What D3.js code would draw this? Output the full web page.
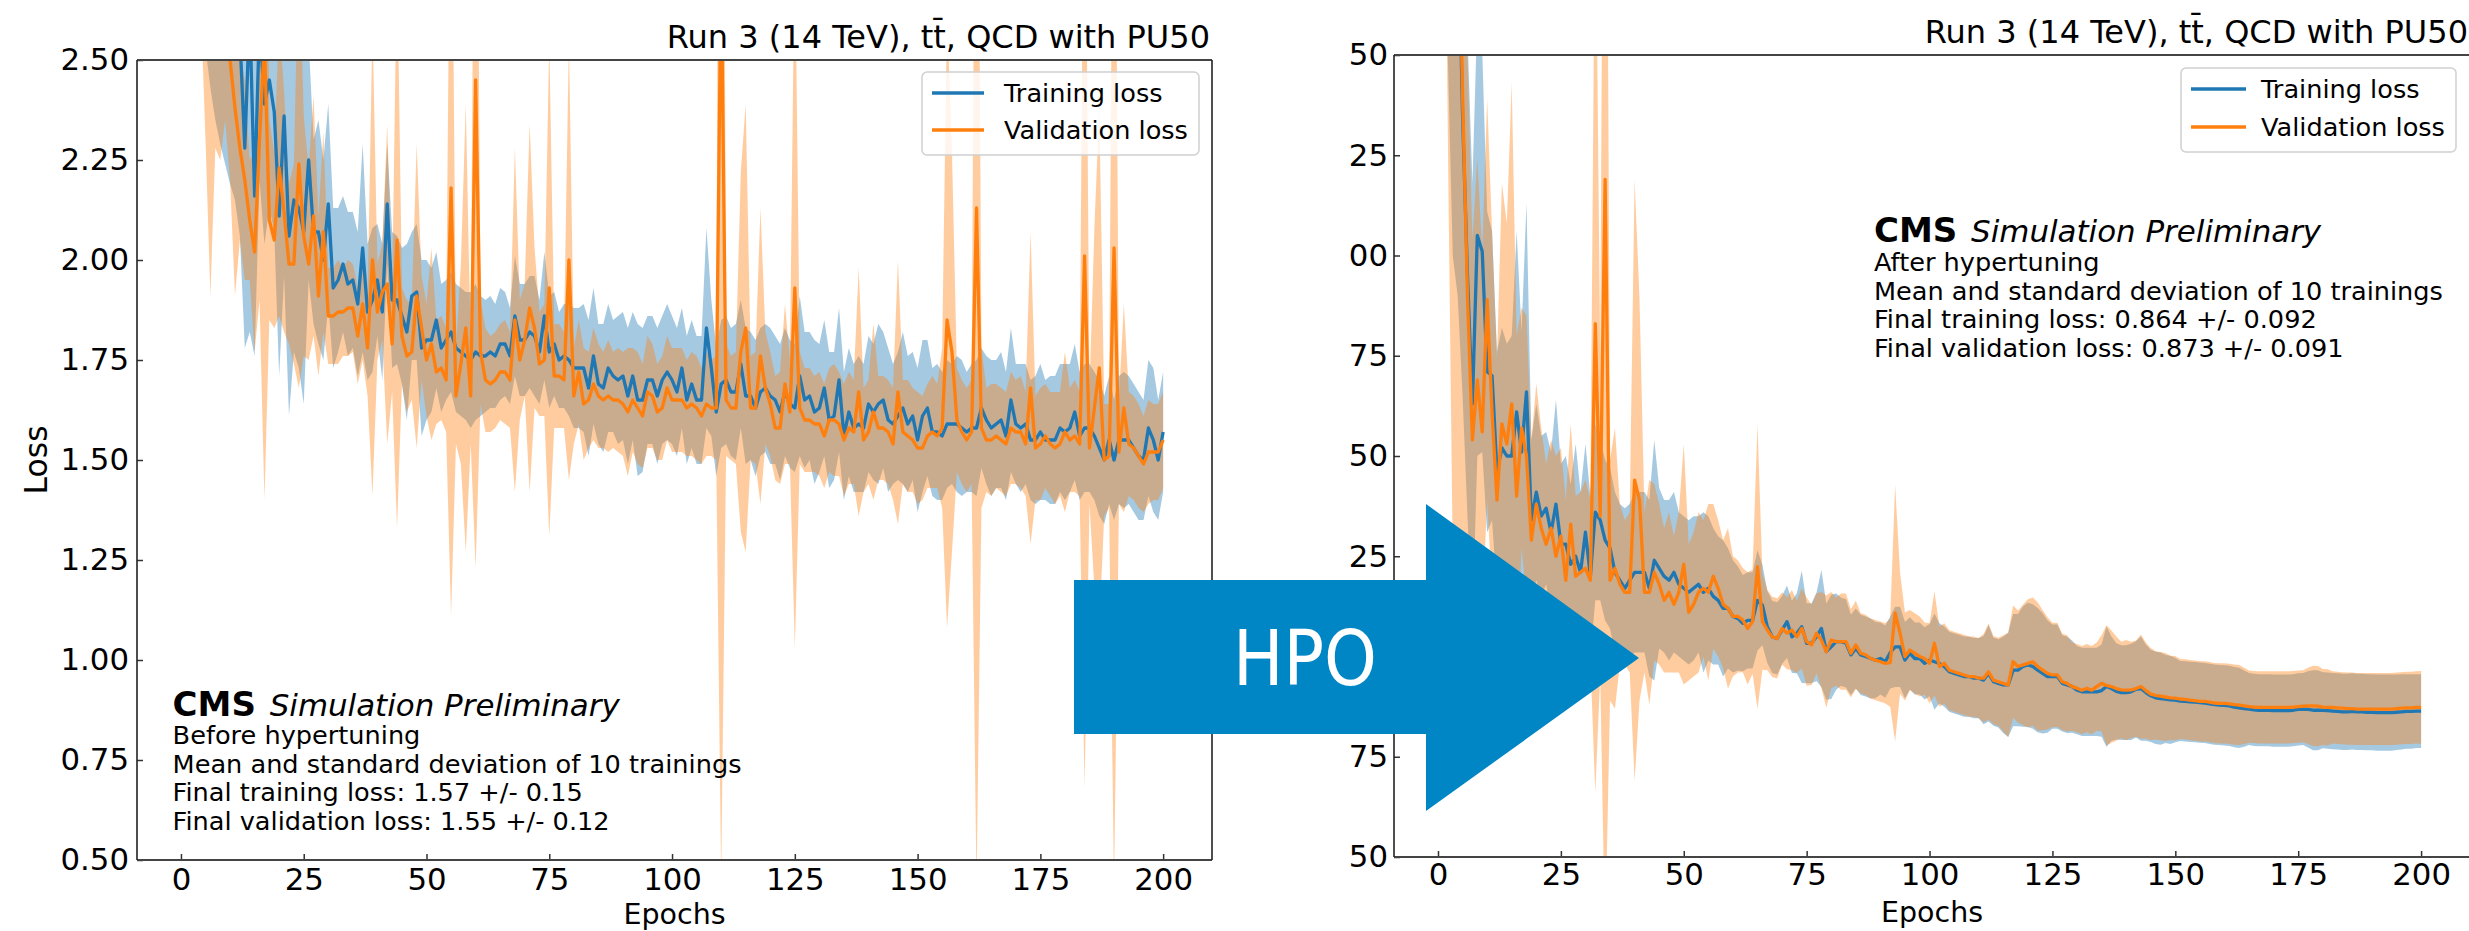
<!DOCTYPE html>
<html><head><meta charset="utf-8">
<script src="https://cdn.jsdelivr.net/npm/d3@7"></script>
<style>body{margin:0;background:#fff;} svg{display:block;} text{font-family:"DejaVu Sans",sans-serif;fill:#000;}</style>
</head><body><svg id="c" width="2469" height="931"></svg>
<script>
const epochs = d3.range(1, 201);
const xTicks = [0,25,50,75,100,125,150,175,200];
const yTicks = [0.5,0.75,1.0,1.25,1.5,1.75,2.0,2.25,2.5];
const leftYTickLabels = ["0.50","0.75","1.00","1.25","1.50","1.75","2.00","2.25","2.50"];
// right panel: left part of the labels is cropped in the original; the 1.00 label sits under the arrow
const rightYTickLabels = ["50","75","","25","50","75","00","25","50"];
const seriesNames = ["Training loss","Validation loss"];
const titleText = "Run 3 (14 TeV), tt\u0304, QCD with PU50";
const leftNotes = ["Before hypertuning","Mean and standard deviation of 10 trainings","Final training loss: 1.57 +/- 0.15","Final validation loss: 1.55 +/- 0.12"];
const rightNotes = ["After hypertuning","Mean and standard deviation of 10 trainings","Final training loss: 0.864 +/- 0.092","Final validation loss: 0.873 +/- 0.091"];

const leftTrainMean = [4.50,3.80,3.40,3.15,2.98,2.88,2.80,2.74,2.69,2.64,
2.60,2.56,2.28,2.62,2.16,2.60,2.39,2.45,2.37,2.11,
2.36,2.06,2.15,2.13,2.07,2.25,2.07,2.07,2.00,2.14,
1.93,1.95,1.99,1.94,1.95,1.89,2.03,1.87,1.90,1.95,
1.87,2.14,1.90,1.90,1.86,1.82,1.91,1.92,1.78,1.80,
1.80,1.85,1.78,1.80,1.82,1.78,1.77,1.76,1.75,1.77,
1.76,1.76,1.77,1.76,1.79,1.79,1.76,1.86,1.80,1.80,
1.82,1.81,1.77,1.86,1.77,1.79,1.75,1.76,1.75,1.73,
1.73,1.73,1.68,1.76,1.69,1.68,1.73,1.71,1.70,1.71,
1.66,1.71,1.65,1.65,1.70,1.70,1.66,1.70,1.72,1.70,
1.67,1.73,1.65,1.69,1.65,1.65,1.83,1.73,1.62,1.69,
1.70,1.67,1.67,1.74,1.66,1.66,1.63,1.67,1.68,1.66,
1.65,1.62,1.67,1.64,1.63,1.71,1.65,1.66,1.62,1.63,
1.68,1.60,1.61,1.70,1.56,1.62,1.58,1.59,1.58,1.64,
1.62,1.64,1.65,1.60,1.59,1.61,1.63,1.59,1.61,1.55,
1.61,1.63,1.57,1.57,1.56,1.59,1.59,1.59,1.58,1.57,
1.58,1.58,1.63,1.60,1.58,1.59,1.60,1.56,1.65,1.59,
1.58,1.59,1.55,1.55,1.57,1.55,1.55,1.55,1.58,1.57,
1.58,1.62,1.56,1.58,1.58,1.56,1.53,1.50,1.55,1.50,
1.55,1.55,1.55,1.53,1.51,1.50,1.58,1.55,1.50,1.57];
const leftTrainStd = [0.60,0.50,0.45,0.45,0.45,0.45,0.45,0.45,0.45,0.45,
0.45,0.50,0.50,0.80,0.40,0.40,0.35,0.32,0.30,0.40,
0.40,0.45,0.38,0.40,0.43,0.30,0.23,0.28,0.25,0.25,
0.20,0.18,0.17,0.18,0.17,0.18,0.26,0.17,0.18,0.14,
0.17,0.15,0.17,0.16,0.17,0.22,0.16,0.17,0.22,0.20,
0.18,0.17,0.16,0.15,0.15,0.16,0.16,0.16,0.17,0.17,
0.15,0.14,0.14,0.13,0.14,0.13,0.12,0.15,0.14,0.14,
0.14,0.15,0.13,0.16,0.14,0.13,0.12,0.13,0.14,0.15,
0.15,0.16,0.17,0.17,0.15,0.16,0.16,0.14,0.16,0.16,
0.17,0.16,0.19,0.18,0.16,0.16,0.17,0.16,0.17,0.16,
0.16,0.15,0.16,0.16,0.16,0.16,0.25,0.17,0.16,0.16,
0.16,0.16,0.17,0.16,0.17,0.16,0.17,0.16,0.16,0.17,
0.16,0.17,0.16,0.16,0.16,0.20,0.17,0.16,0.18,0.16,
0.17,0.17,0.16,0.18,0.16,0.16,0.16,0.17,0.16,0.17,
0.17,0.20,0.17,0.18,0.15,0.16,0.19,0.17,0.16,0.18,
0.19,0.17,0.16,0.17,0.16,0.16,0.15,0.17,0.17,0.15,
0.16,0.17,0.15,0.16,0.17,0.16,0.17,0.16,0.18,0.15,
0.16,0.15,0.15,0.16,0.17,0.15,0.16,0.16,0.16,0.17,
0.16,0.17,0.16,0.16,0.16,0.16,0.17,0.16,0.16,0.15,
0.16,0.17,0.16,0.16,0.16,0.15,0.17,0.18,0.15,0.15];
const leftValMean = [5.00,3.90,3.20,2.85,2.75,2.65,2.60,2.58,2.55,2.50,
2.38,2.28,2.20,2.10,2.02,2.30,2.55,2.10,2.05,2.23,
2.12,1.99,1.99,2.24,2.06,1.99,2.11,1.91,2.07,1.86,
1.86,1.87,1.87,1.88,1.88,1.81,1.89,1.78,2.00,1.87,
1.92,1.94,1.79,2.05,1.81,1.76,1.77,1.91,1.83,1.75,
1.79,1.72,1.73,1.70,2.18,1.66,1.74,1.83,1.66,2.45,
1.77,1.70,1.69,1.70,1.72,1.72,1.70,1.85,1.75,1.80,
1.88,1.83,1.74,1.75,1.93,1.71,1.71,1.70,2.00,1.66,
1.72,1.64,1.65,1.69,1.66,1.65,1.66,1.65,1.65,1.64,
1.62,1.65,1.63,1.61,1.67,1.66,1.62,1.63,1.68,1.65,
1.65,1.65,1.63,1.64,1.63,1.61,1.64,1.63,1.63,2.75,
1.65,1.63,1.63,1.77,1.83,1.63,1.63,1.76,1.68,1.64,
1.58,1.58,1.69,1.62,1.93,1.63,1.60,1.60,1.59,1.59,
1.56,1.60,1.60,1.59,1.55,1.58,1.57,1.67,1.55,1.57,
1.62,1.58,1.58,1.57,1.54,1.67,1.57,1.56,1.55,1.53,
1.53,1.56,1.57,1.56,1.58,1.85,1.77,1.60,1.57,1.55,
1.57,2.13,1.58,1.55,1.55,1.56,1.55,1.54,1.58,1.57,
1.57,1.54,1.68,1.53,1.54,1.56,1.54,1.53,1.54,1.57,
1.55,1.56,1.54,2.01,1.53,1.63,1.73,1.50,1.51,2.03,
1.52,1.63,1.54,1.53,1.51,1.49,1.52,1.52,1.52,1.55];
const leftValStd = [0.50,0.45,0.35,0.20,0.45,0.74,0.32,0.33,0.20,0.30,
0.47,0.23,0.25,0.15,0.25,0.40,1.15,0.25,0.22,0.37,
0.30,0.20,0.25,0.56,0.30,0.24,0.30,0.20,0.25,0.12,
0.12,0.13,0.11,0.12,0.11,0.12,0.14,0.12,0.59,0.12,
0.12,0.40,0.12,0.72,0.12,0.14,0.12,0.38,0.13,0.14,
0.24,0.13,0.13,0.13,1.07,0.12,0.25,0.56,0.12,1.22,
0.13,0.13,0.12,0.12,0.12,0.13,0.12,0.43,0.15,0.14,
0.46,0.20,0.13,0.14,0.62,0.13,0.13,0.12,0.55,0.12,
0.13,0.14,0.12,0.14,0.13,0.12,0.14,0.12,0.13,0.13,
0.16,0.13,0.14,0.13,0.14,0.13,0.12,0.13,0.13,0.13,
0.13,0.13,0.12,0.13,0.13,0.12,0.13,0.12,0.13,2.30,
0.14,0.13,0.14,0.45,0.56,0.13,0.14,0.37,0.14,0.13,
0.13,0.14,0.20,0.13,0.90,0.14,0.13,0.13,0.12,0.13,
0.13,0.13,0.14,0.13,0.14,0.14,0.13,0.31,0.13,0.13,
0.22,0.13,0.13,0.13,0.14,0.33,0.13,0.14,0.13,0.14,
0.13,0.13,0.14,0.13,0.20,0.77,0.50,0.13,0.13,0.13,
0.13,1.70,0.20,0.13,0.14,0.13,0.13,0.13,0.14,0.13,
0.14,0.13,0.39,0.13,0.14,0.13,0.13,0.14,0.13,0.20,
0.13,0.14,0.13,1.33,0.14,0.45,0.65,0.14,0.13,1.60,
0.13,0.26,0.13,0.13,0.13,0.12,0.13,0.12,0.12,0.12];

const rightTrainMean = [6.00,4.50,3.50,2.90,2.35,1.95,1.63,2.05,2.01,1.71,
1.70,1.46,1.52,1.50,1.50,1.61,1.51,1.66,1.34,1.41,
1.35,1.37,1.31,1.38,1.28,1.28,1.23,1.25,1.21,1.31,
1.20,1.36,1.34,1.29,1.27,1.21,1.19,1.17,1.19,1.21,
1.21,1.21,1.17,1.24,1.22,1.20,1.19,1.21,1.18,1.17,
1.16,1.17,1.18,1.16,1.17,1.15,1.14,1.12,1.12,1.10,
1.095,1.083,1.09,1.09,1.14,1.128,1.074,1.049,1.045,1.066,
1.087,1.049,1.058,1.074,1.033,1.033,1.049,1.070,1.012,1.024,
1.037,1.037,1.033,1.004,1.020,1.004,1.000,0.995,0.991,0.995,
0.987,1.010,1.024,1.024,0.991,1.008,0.995,0.995,0.983,0.991,
0.987,0.983,0.975,0.962,0.958,0.954,0.950,0.950,0.946,0.946,
0.941,0.958,0.937,0.933,0.929,0.929,0.966,0.966,0.975,0.979,
0.975,0.966,0.958,0.950,0.950,0.950,0.933,0.929,0.925,0.916,
0.912,0.912,0.912,0.912,0.915,0.925,0.920,0.913,0.910,0.910,
0.912,0.918,0.920,0.910,0.902,0.897,0.895,0.894,0.892,0.891,
0.889,0.888,0.887,0.886,0.885,0.884,0.882,0.880,0.879,0.878,
0.877,0.874,0.872,0.870,0.869,0.867,0.866,0.866,0.866,0.865,
0.865,0.865,0.865,0.866,0.868,0.869,0.868,0.866,0.866,0.866,
0.865,0.864,0.863,0.862,0.862,0.863,0.862,0.862,0.861,0.861,
0.860,0.860,0.860,0.860,0.861,0.862,0.863,0.863,0.864,0.864];
const rightTrainStd = [2.50,2.00,1.50,1.00,0.70,0.60,0.55,0.55,0.50,0.40,
0.36,0.30,0.30,0.28,0.30,0.45,0.30,0.47,0.20,0.22,
0.20,0.19,0.20,0.26,0.20,0.22,0.20,0.28,0.20,0.22,
0.20,0.22,0.20,0.20,0.20,0.20,0.19,0.20,0.19,0.20,
0.20,0.20,0.22,0.30,0.20,0.19,0.20,0.20,0.18,0.18,
0.18,0.18,0.17,0.20,0.18,0.17,0.16,0.17,0.15,0.14,
0.13,0.12,0.12,0.12,0.125,0.10,0.09,0.09,0.09,0.085,
0.09,0.09,0.10,0.14,0.10,0.10,0.11,0.146,0.12,0.13,
0.12,0.11,0.11,0.10,0.10,0.10,0.10,0.10,0.095,0.09,
0.09,0.09,0.10,0.10,0.095,0.09,0.09,0.09,0.09,0.09,
0.12,0.10,0.10,0.10,0.10,0.10,0.10,0.10,0.10,0.10,
0.11,0.12,0.11,0.11,0.12,0.13,0.14,0.14,0.15,0.155,
0.155,0.155,0.15,0.14,0.13,0.13,0.12,0.12,0.115,0.11,
0.11,0.11,0.11,0.11,0.115,0.15,0.13,0.12,0.118,0.118,
0.12,0.12,0.13,0.12,0.115,0.115,0.115,0.11,0.11,0.105,
0.10,0.10,0.10,0.10,0.10,0.10,0.10,0.10,0.10,0.10,
0.10,0.10,0.10,0.095,0.09,0.09,0.09,0.09,0.09,0.09,
0.09,0.09,0.09,0.09,0.09,0.09,0.095,0.10,0.10,0.095,
0.095,0.095,0.095,0.095,0.095,0.095,0.095,0.095,0.095,0.095,
0.095,0.095,0.095,0.095,0.094,0.094,0.093,0.093,0.092,0.092];
const rightValMean = [6.50,4.80,3.60,3.00,2.40,1.90,1.54,1.69,1.56,1.89,
1.61,1.39,1.58,1.53,1.63,1.40,1.57,1.50,1.29,1.38,
1.32,1.28,1.32,1.25,1.30,1.19,1.33,1.20,1.21,1.22,
1.19,1.83,1.35,2.19,1.19,1.22,1.18,1.16,1.16,1.44,
1.39,1.16,1.16,1.21,1.18,1.14,1.16,1.13,1.16,1.23,
1.11,1.13,1.16,1.17,1.16,1.20,1.17,1.13,1.12,1.10,
1.10,1.091,1.070,1.087,1.224,1.087,1.066,1.049,1.045,1.070,
1.058,1.066,1.049,1.070,1.037,1.029,1.058,1.041,1.012,1.041,
1.037,1.037,1.037,1.008,1.029,1.008,1.004,0.995,0.991,0.987,
0.983,0.985,1.108,1.058,1.000,1.016,1.008,1.000,0.995,0.983,
1.033,0.975,0.983,0.966,0.962,0.958,0.954,0.950,0.950,0.946,
0.946,0.962,0.941,0.937,0.933,0.929,0.987,0.975,0.979,0.983,
0.987,0.975,0.966,0.958,0.954,0.954,0.937,0.933,0.925,0.921,
0.916,0.921,0.916,0.925,0.933,0.928,0.925,0.920,0.917,0.916,
0.917,0.920,0.925,0.915,0.906,0.903,0.901,0.899,0.897,0.896,
0.894,0.893,0.891,0.890,0.888,0.888,0.886,0.884,0.883,0.883,
0.882,0.880,0.879,0.877,0.875,0.874,0.873,0.873,0.873,0.873,
0.873,0.873,0.873,0.874,0.875,0.876,0.877,0.877,0.876,0.874,
0.873,0.873,0.872,0.871,0.870,0.870,0.869,0.869,0.869,0.869,
0.869,0.869,0.869,0.869,0.870,0.871,0.872,0.872,0.873,0.873];
const rightValStd = [3.00,2.50,2.35,1.70,1.10,0.60,0.50,0.55,0.45,0.50,
0.45,0.35,0.60,0.55,0.80,0.40,0.30,0.35,0.25,0.30,
0.25,0.20,0.22,0.25,0.22,0.20,0.25,0.20,0.20,0.22,
0.20,1.17,0.40,1.90,0.30,0.35,0.20,0.18,0.20,0.75,
0.50,0.20,0.28,0.22,0.20,0.18,0.20,0.17,0.20,0.30,
0.17,0.18,0.20,0.17,0.22,0.18,0.17,0.16,0.20,0.15,
0.14,0.13,0.14,0.13,0.355,0.12,0.10,0.10,0.10,0.09,
0.09,0.10,0.09,0.10,0.11,0.10,0.10,0.12,0.14,0.12,
0.11,0.12,0.12,0.11,0.11,0.10,0.10,0.10,0.10,0.10,
0.10,0.11,0.32,0.15,0.11,0.10,0.10,0.10,0.09,0.10,
0.13,0.10,0.10,0.10,0.10,0.10,0.10,0.10,0.10,0.10,
0.11,0.12,0.11,0.11,0.12,0.13,0.14,0.14,0.15,0.16,
0.16,0.16,0.15,0.14,0.13,0.13,0.12,0.12,0.11,0.11,
0.11,0.11,0.11,0.11,0.12,0.15,0.14,0.13,0.12,0.125,
0.12,0.12,0.13,0.12,0.115,0.11,0.11,0.11,0.105,0.105,
0.10,0.10,0.10,0.10,0.10,0.10,0.10,0.10,0.10,0.10,
0.10,0.10,0.10,0.095,0.09,0.09,0.09,0.09,0.09,0.09,
0.09,0.09,0.09,0.09,0.09,0.09,0.095,0.10,0.10,0.095,
0.095,0.09,0.09,0.09,0.09,0.09,0.09,0.09,0.09,0.09,
0.09,0.09,0.09,0.09,0.09,0.09,0.09,0.09,0.09,0.091];

const BLUE = "#1f77b4", ORANGE = "#ff7f0e";
const svg = d3.select("#c");
svg.append("rect").attr("width",2469).attr("height",931).attr("fill","#fff");

function drawPanel(cfg) {
  const g = svg.append("g");
  const x = d3.scaleLinear().domain([-8.95, 209.95]).range([cfg.left, cfg.right]);
  const y = d3.scaleLinear().domain([0.5, 2.5]).range([cfg.bottom, cfg.top]);
  const cid = "clip-" + cfg.id;
  svg.append("defs").append("clipPath").attr("id", cid).append("rect")
    .attr("x", cfg.left).attr("y", cfg.top).attr("width", cfg.right - cfg.left).attr("height", cfg.bottom - cfg.top);
  const plot = g.append("g").attr("clip-path", `url(#${cid})`);
  const series = [
    {mean: cfg.trainMean, std: cfg.trainStd, color: BLUE},
    {mean: cfg.valMean, std: cfg.valStd, color: ORANGE}
  ];
  series.forEach(s => {
    const area = d3.area()
      .x((d, i) => x(epochs[i]))
      .y0((d, i) => y(s.mean[i] - s.std[i]))
      .y1((d, i) => y(s.mean[i] + s.std[i]));
    plot.append("path").attr("d", area(s.mean)).attr("fill", s.color).attr("fill-opacity", 0.4);
  });
  series.forEach(s => {
    const line = d3.line().x((d, i) => x(epochs[i])).y(d => y(d));
    plot.append("path").attr("d", line(s.mean)).attr("fill", "none").attr("stroke", s.color)
      .attr("stroke-width", 3.3).attr("stroke-linejoin", "round");
  });
  // axes
  const xa = g.append("g").attr("transform", `translate(0,${cfg.bottom})`)
    .call(d3.axisBottom(x).tickValues(xTicks).tickSizeInner(-6).tickSizeOuter(0).tickPadding(cfg.xPad).tickFormat(d3.format("d")));
  const ya = g.append("g").attr("transform", `translate(${cfg.left},0)`)
    .call(d3.axisLeft(y).tickValues(yTicks).tickSizeInner(-6).tickSizeOuter(0).tickPadding(cfg.yPad).tickFormat((d, i) => cfg.yLabels[i]));
  [xa, ya].forEach(a => {
    a.select(".domain").remove();
    a.selectAll(".tick line").attr("stroke", "#333").attr("stroke-width", 1.5);
    a.selectAll(".tick text").attr("font-family", "DejaVu Sans").attr("font-size", 30.8).attr("fill", "#000");
  });
  ya.selectAll(".tick text").filter(function() { return this.textContent === ""; }).remove();
  // spines
  g.append("line").attr("x1", cfg.left).attr("x2", cfg.right).attr("y1", cfg.top).attr("y2", cfg.top).attr("stroke", "#444").attr("stroke-width", 2);
  g.append("line").attr("x1", cfg.left).attr("x2", cfg.right).attr("y1", cfg.bottom).attr("y2", cfg.bottom).attr("stroke", "#444").attr("stroke-width", 2);
  g.append("line").attr("x1", cfg.left).attr("x2", cfg.left).attr("y1", cfg.top).attr("y2", cfg.bottom).attr("stroke", "#222").attr("stroke-width", 1.6);
  g.append("line").attr("x1", cfg.right).attr("x2", cfg.right).attr("y1", cfg.top).attr("y2", cfg.bottom).attr("stroke", "#222").attr("stroke-width", 1.6);
  // title
  g.append("text").attr("x", cfg.right - 2).attr("y", cfg.top - 12).attr("text-anchor", "end")
    .attr("font-size", 32).text(titleText);
  // axis labels
  g.append("text").attr("x", (cfg.left + cfg.right) / 2).attr("y", cfg.xLabelY).attr("text-anchor", "middle")
    .attr("font-size", 28.5).text("Epochs");
  if (cfg.showYLabel) {
    g.append("text").attr("transform", `translate(47,${(cfg.top + cfg.bottom) / 2}) rotate(-90)`)
      .attr("text-anchor", "middle").attr("font-size", 31.5).text("Loss");
  }
  // legend
  const L = cfg.legend;
  const lg = g.append("g");
  lg.append("rect").attr("x", L.x).attr("y", L.y).attr("width", L.w).attr("height", L.h).attr("rx", 5)
    .attr("fill", "#fff").attr("fill-opacity", 0.8).attr("stroke", "#d0d0d0").attr("stroke-width", 1.5);
  [BLUE, ORANGE].forEach((c, i) => {
    const yy = L.y + L.row0 + i * L.dy;
    lg.append("line").attr("x1", L.x + 10).attr("x2", L.x + 10 + L.lineLen).attr("y1", yy).attr("y2", yy)
      .attr("stroke", c).attr("stroke-width", 3.3);
    lg.append("text").attr("x", L.textX).attr("y", yy).attr("dy", "0.35em").attr("font-size", 25.6).text(seriesNames[i]);
  });
  // CMS annotation
  const A = cfg.note;
  const t = g.append("text").attr("x", A.x).attr("y", A.y0);
  t.append("tspan").attr("font-weight", "bold").attr("font-size", 34).text("CMS");
  t.append("tspan").attr("font-style", "italic").attr("font-size", 30.9).attr("dx", 4).text(" Simulation Preliminary");
  cfg.notes.forEach((s, i) => {
    g.append("text").attr("x", A.x).attr("y", A.y1 + i * A.dy).attr("font-size", 25.6).text(s);
  });
}

drawPanel({
  id: "L", left: 137, right: 1212, top: 60, bottom: 860, xPad: 8, yPad: 8, xLabelY: 924,
  yLabels: leftYTickLabels, showYLabel: true,
  trainMean: leftTrainMean, trainStd: leftTrainStd, valMean: leftValMean, valStd: leftValStd,
  legend: {x: 922, y: 72, w: 277, h: 83, row0: 21, dy: 37, lineLen: 52, textX: 1004},
  note: {x: 172.6, y0: 716, y1: 744, dy: 28.5}, notes: leftNotes
});
drawPanel({
  id: "R", left: 1394, right: 2470, top: 55, bottom: 857, xPad: 6, yPad: 6, xLabelY: 922,
  yLabels: rightYTickLabels, showYLabel: false,
  trainMean: rightTrainMean, trainStd: rightTrainStd, valMean: rightValMean, valStd: rightValStd,
  legend: {x: 2181, y: 68, w: 275, h: 84, row0: 21, dy: 38, lineLen: 55, textX: 2261},
  note: {x: 1874, y0: 242, y1: 271, dy: 28.5}, notes: rightNotes
});

// HPO arrow
const arrowPts = [[1074,580],[1426,580],[1426,504],[1639,658],[1426,811],[1426,734],[1074,734]];
svg.append("polygon").attr("points", arrowPts.map(p => p.join(",")).join(" ")).attr("fill", "#0085c5");
svg.append("text").attr("x", 1305).attr("y", 685).attr("text-anchor", "middle")
  .attr("font-family", "Open Sans").attr("font-size", 77).attr("textLength", 144).attr("lengthAdjust", "spacingAndGlyphs")
  .style("fill", "#fff").text("HPO");
</script></body></html>
